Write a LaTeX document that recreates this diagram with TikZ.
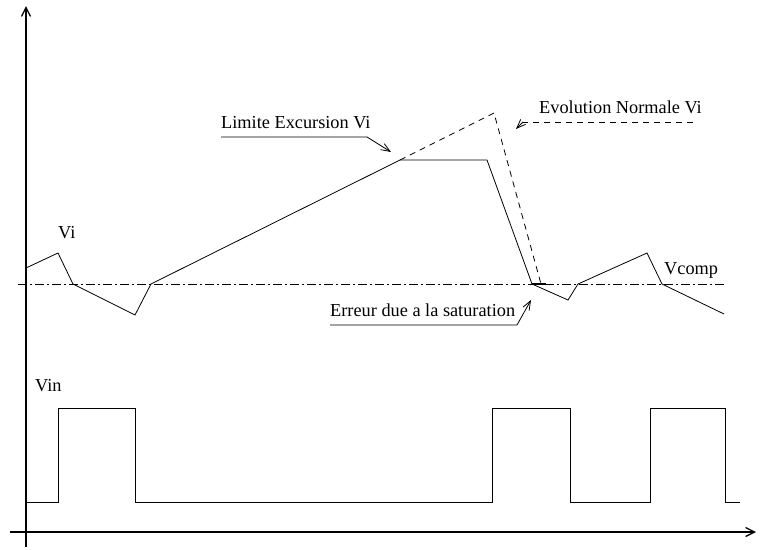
\documentclass[tikz,border=0pt]{standalone}
\usepackage{fontspec}
\setmainfont{Liberation Serif}
\usetikzlibrary{arrows.meta}
\begin{document}
\begin{tikzpicture}[x=1pt,y=-1pt,
  lbl/.style={font=\fontsize{18.3}{21}\selectfont, inner sep=0pt, anchor=west},
  axis/.style={line width=1.3pt,-{Straight Barb[length=9pt,width=9pt,line width=1.3pt]}},
  sig/.style={line width=0.8pt, line join=miter},
  dashdot/.style={line width=0.8pt, dash pattern=on 9pt off 3pt on 2pt off 3pt},
  dsh/.style={line width=0.8pt, dash pattern=on 6pt off 5pt},
  pointer/.style={line width=0.8pt,-{Straight Barb[length=9pt,width=7pt]}}]
\useasboundingbox (0,0) rectangle (760,549);
% axes
\coordinate (yb) at (26,547);
\coordinate (yt) at (26,6);
\coordinate (xl) at (10,532);
\coordinate (xr) at (756,532);
\draw[axis] (yb) -- (yt);
\draw[axis] (xl) -- (xr);
% comparison level
\coordinate (cl) at (18,284);
\coordinate (cr) at (724,284);
\draw[dashdot] (cl) -- (cr);
% Vi waveform
\draw[sig] (26,268) -- (58,253) -- (73,284) -- (135,315) -- (151,284)
  -- (400,160) coordinate (sat) -- (487,160) -- (532,284) coordinate (e1)
  -- (568,300) -- (578,284) -- (647,253) -- (662,284) -- (724,314);
% normal evolution
\draw[dsh] (sat) -- (494,113) -- (541,284) coordinate (e2);
% error
\draw[line width=2.2pt] (e1) -- (546,284);
% Vin
\draw[sig] (26,502) -- (58,502) -- (58,408) -- (135,408) -- (135,502)
  -- (492,502) -- (492,408) -- (570,408) -- (570,502) -- (650,502)
  -- (650,408) -- (725,408) -- (725,502) -- (740,502);
% labels
\node[lbl] (vi) at (58,233) {Vi};
\node[lbl] (vin) at (35,386) {Vin};
\node[lbl] (vcomp) at (664,270) {Vcomp};
\node[lbl] (lim) at (221,123) {Limite Excursion Vi};
\node[lbl] (evo) at (539,107) {Evolution Normale Vi};
\node[lbl] (err) at (330,310) {Erreur due a la saturation};
% pointers
\coordinate (limu) at (221,137);
\coordinate (limk) at (367,137);
\coordinate (limt) at (391,152);
\draw[pointer] (limu) -- (limk) -- (limt);
\coordinate (evou) at (693,122);
\coordinate (evok) at (523,122);
\coordinate (evot) at (516,129);
\draw[dsh] (evou) -- (evok);
\draw[pointer] (evok) -- (evot);
\coordinate (erru) at (330,325);
\coordinate (errk) at (517,325);
\coordinate (errt) at (531,300);
\draw[pointer] (erru) -- (errk) -- (errt);
\end{tikzpicture}
\end{document}
